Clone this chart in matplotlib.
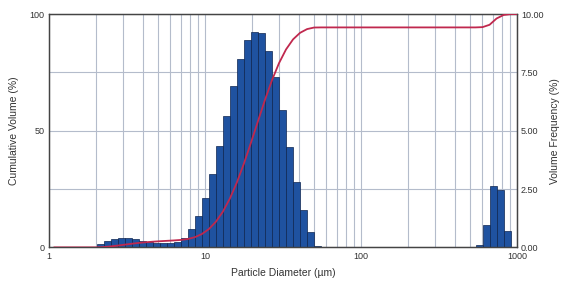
import numpy as np
import matplotlib.pyplot as plt
from matplotlib.ticker import LogLocator, FixedLocator, NullFormatter

plt.rcParams['font.family'] = ['Liberation Sans', 'DejaVu Sans']

# instrument size classes: log10 of first edge and log10 step per class
FIRST_EDGE_LOG = 0.305 - 7 * 0.045
STEP_LOG = 0.045

# volume frequency (%) per size class (first 7 classes below 2 um are empty)
freq = [0, 0, 0, 0, 0, 0, 0,
        0.14, 0.28, 0.36, 0.39, 0.39, 0.36, 0.28, 0.24, 0.20, 0.17, 0.17, 0.21,
        0.40, 0.78, 1.34, 2.13, 3.14, 4.34, 5.63, 6.91, 8.08, 8.89, 9.24, 9.17,
        8.43, 7.29, 5.88, 4.31, 2.81, 1.60, 0.67, 0.05,
        0, 0, 0, 0, 0, 0, 0, 0, 0, 0, 0, 0, 0, 0, 0, 0, 0, 0, 0, 0, 0, 0,
        0.12, 0.95, 2.62, 2.44, 0.72, 0.03]

# cumulative volume (%) at the upper edge of each class
cum = [0, 0, 0, 0, 0, 0, 0,
       0.14, 0.42, 0.78, 1.17, 1.56, 1.92, 2.2, 2.44, 2.64, 2.81, 2.98, 3.19,
       3.59, 4.37, 5.71, 7.84, 10.98, 15.32, 20.95, 27.86, 35.94, 44.83, 54.07, 63.24,
       71.67, 78.96, 84.84, 89.15, 91.96, 93.56, 94.23, 94.28,
       94.28, 94.28, 94.28, 94.28, 94.28, 94.28, 94.28, 94.28, 94.28, 94.28, 94.28,
       94.28, 94.28, 94.28, 94.28, 94.28, 94.28, 94.28, 94.28, 94.28, 94.28, 94.28,
       94.4, 95.4, 98.1, 99.6, 100.0, 100.0]

x_ticks = [1, 10, 100, 1000]
left_ticks = [0, 50, 100]
right_ticks = [0, 2.5, 5.0, 7.5, 10.0]
right_labels = ["0.00", "2.50", "5.00", "7.50", "10.00"]

edges = 10 ** (FIRST_EDGE_LOG + STEP_LOG * np.arange(len(freq) + 1))
widths = np.diff(edges)

fig = plt.figure(figsize=(5.63, 2.87), dpi=100)
ax = fig.add_axes([0.087, 0.138, 0.831, 0.813])   # bars, frequency scale
ax2 = ax.twinx()                                   # cumulative curve

grid_c = "#b4bccb"
ax.set_xscale("log")
ax.set_xlim(1, 1000)
ax.set_ylim(0, 10)
ax.xaxis.set_major_locator(FixedLocator(x_ticks))
ax.set_xticklabels([str(t) for t in x_ticks])
ax.xaxis.set_minor_locator(LogLocator(base=10, subs=np.arange(2, 10)))
ax.xaxis.set_minor_formatter(NullFormatter())
ax.set_yticks(right_ticks)
ax.set_yticklabels(right_labels)
ax.yaxis.tick_right()
ax.yaxis.set_label_position("right")
ax.grid(True, which="both", axis="x", color=grid_c, lw=0.8)
ax.grid(True, which="major", axis="y", color=grid_c, lw=0.8)
ax.set_axisbelow(True)

ax.bar(edges[:-1], freq, width=widths, align="edge",
       color="#1f52a0", edgecolor="#0d2450", linewidth=0.5, zorder=2)

ax2.plot(edges[1:], cum, color="#c0284e", lw=1.3, zorder=3)
ax2.set_ylim(0, 100)
ax2.set_yticks(left_ticks)
ax2.set_yticklabels([str(t) for t in left_ticks])
ax2.yaxis.tick_left()
ax2.yaxis.set_label_position("left")

for a in (ax, ax2):
    a.tick_params(axis="both", which="both", length=0, labelsize=6.5,
                  colors="#333333", pad=3)
    for s in a.spines.values():
        s.set_color("#444444")
        s.set_linewidth(0.9)

ax.set_xlabel("Particle Diameter (µm)", fontsize=7.5, color="#333333", labelpad=5)
ax.set_ylabel("Volume Frequency (%)", fontsize=7.5, color="#333333", labelpad=5)
ax2.set_ylabel("Cumulative Volume (%)", fontsize=7.5, color="#333333", labelpad=8)

fig.savefig("out.png", dpi=100, facecolor="white")
